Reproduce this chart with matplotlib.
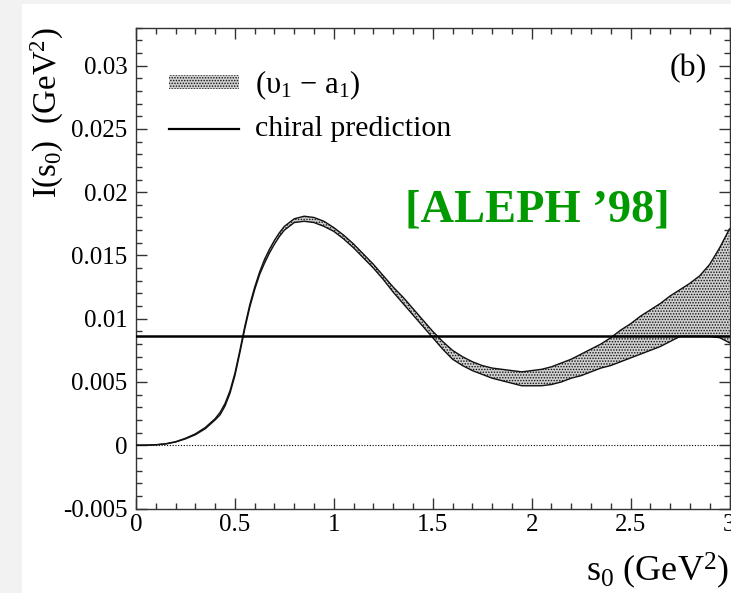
import matplotlib
matplotlib.use("Agg")
import matplotlib.pyplot as plt
from matplotlib.patches import Rectangle
from matplotlib.ticker import MultipleLocator, FixedLocator, FixedFormatter

plt.rcParams['font.family'] = ['Liberation Serif', 'DejaVu Serif']
plt.rcParams['mathtext.fontset'] = 'custom'
plt.rcParams['mathtext.rm'] = 'Liberation Serif'
plt.rcParams['mathtext.it'] = 'Liberation Serif:italic'
plt.rcParams['hatch.linewidth'] = 0.7

# Integral I(s0) of the (v1 - a1) spectral function: lower / upper edge of the band
s0 = [0.0, 0.05, 0.1, 0.15, 0.2, 0.25, 0.3, 0.35, 0.4,
      0.425, 0.45, 0.475, 0.5, 0.525, 0.55, 0.575, 0.6, 0.625, 0.65, 0.675, 0.7,
      0.725, 0.75,
      0.8, 0.85, 0.9, 0.95, 1.0, 1.05, 1.1, 1.15, 1.2, 1.25, 1.3, 1.35, 1.4, 1.45,
      1.5,
      1.55, 1.6, 1.65, 1.7, 1.75, 1.8, 1.85, 1.9, 1.95, 2.0, 2.05, 2.1, 2.15, 2.2,
      2.25, 2.3, 2.35, 2.4, 2.45, 2.5, 2.55, 2.6, 2.65, 2.7, 2.75, 2.8, 2.85, 2.9,
      2.95, 3.0]
band_upper = [0.0, 0.00001, 0.00004, 0.00012, 0.00028, 0.00055, 0.0009, 0.0014, 0.0021,
              0.0026, 0.0033, 0.0043, 0.0057, 0.0075, 0.0094, 0.0111, 0.0125, 0.0137,
              0.0147, 0.0155, 0.0162, 0.0168, 0.0173,
              0.0179, 0.0181, 0.0180, 0.0177, 0.0172, 0.0166, 0.0159, 0.0151, 0.0143,
              0.0134, 0.0125, 0.0117, 0.0108, 0.0099, 0.0090,
              0.0082, 0.0075, 0.0070, 0.0066, 0.0063, 0.0061, 0.0060, 0.0059, 0.0058,
              0.0059, 0.0060, 0.0062, 0.0065, 0.0068, 0.0072, 0.0076, 0.0080, 0.0085,
              0.0091, 0.0096, 0.0102, 0.0107, 0.0112, 0.0118, 0.0123, 0.0128, 0.0134,
              0.0143, 0.0156, 0.0171]
band_lower = [0.0, 0.0, 0.00003, 0.0001, 0.00025, 0.0005, 0.00083, 0.0013, 0.0020,
              0.0024, 0.0031, 0.0041, 0.0055, 0.0073, 0.0092, 0.0109, 0.0123, 0.0135,
              0.0144, 0.0152, 0.0159, 0.0165, 0.0170,
              0.0176, 0.0177, 0.0176, 0.0173, 0.0169, 0.0163, 0.0156, 0.0148, 0.0140,
              0.0131, 0.0121, 0.0112, 0.0103, 0.0094, 0.0085,
              0.0076, 0.0068, 0.0063, 0.0059, 0.0056, 0.0053, 0.0051, 0.0049, 0.0047,
              0.0047, 0.0047, 0.0048, 0.0050, 0.0053, 0.0055, 0.0058, 0.0061, 0.0063,
              0.0066, 0.0069, 0.0072, 0.0075, 0.0078, 0.0082, 0.0086, 0.0086, 0.0086,
              0.0086, 0.0085, 0.0081]
chiral_value = 0.0086

x_ticks = [0, 0.5, 1, 1.5, 2, 2.5, 3]
x_tick_labels = ['0', '0.5', '1', '1.5', '2', '2.5', '3']
y_ticks = [-0.005, 0, 0.005, 0.01, 0.015, 0.02, 0.025, 0.03]
y_tick_labels = ['-0.005', '0', '0.005', '0.01', '0.015', '0.02', '0.025', '0.03']

fig = plt.figure(figsize=(7.31, 5.93), dpi=100)
fig.patch.set_facecolor('white')
# light grey frame strip on the left and top of the page
fig.patches.append(Rectangle((0, 0), 22 / 731, 1, transform=fig.transFigure,
                             facecolor='#f2f2f2', edgecolor='none', zorder=-1))
fig.patches.append(Rectangle((0, 1 - 4 / 593), 1, 4 / 593, transform=fig.transFigure,
                             facecolor='#f2f2f2', edgecolor='none', zorder=-1))

ax = fig.add_axes([136 / 731, 1 - 508.5 / 593, (729.5 - 136) / 731, (508.5 - 27.7) / 593])
ax.set_xlim(0, 3)
ax.set_ylim(-0.005, 0.033)

band_face = '#d0d0d0'
band_dots = '#111111'

# band
ax.fill_between(s0, band_lower, band_upper, facecolor=band_face, edgecolor=band_dots,
                hatch='......', linewidth=0.0, zorder=2)
ax.plot(s0, band_upper, color='#111111', lw=1.0, zorder=3)
ax.plot(s0, band_lower, color='#111111', lw=1.0, zorder=3)

# chiral prediction and zero line
ax.axhline(chiral_value, color='black', lw=1.8, zorder=4)
ax.axhline(0, color='black', lw=0.8, linestyle=(0, (1, 1.5)), zorder=1)

# ticks
ax.xaxis.set_major_locator(FixedLocator(x_ticks))
ax.xaxis.set_major_formatter(FixedFormatter(x_tick_labels))
ax.xaxis.set_minor_locator(MultipleLocator(0.1))
ax.yaxis.set_major_locator(FixedLocator(y_ticks))
ax.yaxis.set_major_formatter(FixedFormatter(y_tick_labels))
ax.yaxis.set_minor_locator(MultipleLocator(0.001))
ax.tick_params(which='both', direction='in', top=True, right=True, color='#333333',
               width=1.0, labelsize=18)
ax.tick_params(which='major', length=8)
ax.tick_params(which='minor', length=4)
ax.tick_params(axis='x', pad=4)
ax.tick_params(axis='y', pad=6)
for sp in ax.spines.values():
    sp.set_color('#333333')
    sp.set_linewidth(1.0)

# axis titles
fig.text(47 / 731, 1 - 27 / 593, r'I(s$_0$)  (GeV$^2$)', rotation=90,
         ha='center', va='top', fontsize=23.5)
fig.text(729 / 731, 1 - 591 / 593, r's$_0$ (GeV$^2$)', ha='right', va='bottom',
         fontsize=26)

# legend
ax.add_patch(Rectangle((169 / 731, 1 - 89 / 593), 70 / 731, 14 / 593,
                       transform=fig.transFigure, facecolor=band_face,
                       edgecolor=band_dots, hatch='......', linewidth=0.0,
                       clip_on=False, zorder=5))
ax.plot([169 / 731, 239 / 731], [1 - 129 / 593, 1 - 129 / 593], color='black',
        lw=1.6, transform=fig.transFigure, clip_on=False)
fig.text(255 / 731, 1 - 93 / 593, r'(υ$_1$ $-$ a$_1$)', ha='left', va='baseline',
         fontsize=22)
fig.text(255 / 731, 1 - 136 / 593, 'chiral prediction', ha='left', va='baseline',
         fontsize=21.5)

fig.text(707 / 731, 1 - 76 / 593, '(b)', ha='right', va='baseline', fontsize=23)
fig.text(537 / 731, 1 - 221 / 593, '[ALEPH \u201998]', ha='center', va='baseline',
         fontsize=33.5, fontweight='bold', color='#009a00')

fig.savefig('out.png', dpi=100, facecolor=fig.get_facecolor())
